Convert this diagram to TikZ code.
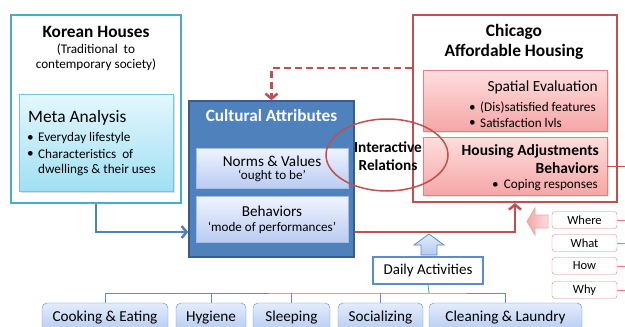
\documentclass[tikz,border=0pt]{standalone}
\usepackage{fontspec}
\setmainfont{Carlito}
\usetikzlibrary{positioning, calc, shapes.geometric, arrows.meta, shadows}
\definecolor{korcyan}{RGB}{75,172,198}
\definecolor{metatop}{RGB}{228,247,253}
\definecolor{metabot}{RGB}{160,224,243}
\definecolor{metaedge}{RGB}{120,195,220}
\definecolor{cultfill}{RGB}{79,129,189}
\definecolor{cultdark}{RGB}{56,93,138}
\definecolor{normtop}{RGB}{240,244,255}
\definecolor{normbot}{RGB}{185,204,242}
\definecolor{chired}{RGB}{192,80,77}
\definecolor{pinktop}{RGB}{254,222,222}
\definecolor{pinkbot}{RGB}{246,166,166}
\definecolor{pinkedge}{RGB}{222,130,128}
\definecolor{actblue}{RGB}{92,140,205}
\definecolor{acttop}{RGB}{228,236,252}
\definecolor{actbot}{RGB}{178,202,240}
\newcommand{\fsz}[2]{\fontsize{#1}{#2}\selectfont}
\tikzset{
    plain text/.style={inner sep=0pt, text=black},
    frame box/.style={draw, line width=2pt, fill=white, inner sep=0pt},
    meta box/.style={draw=metaedge, top color=metatop, bottom color=metabot, inner sep=0pt,
        drop shadow={opacity=0.25, shadow xshift=1.5pt, shadow yshift=-1.5pt}},
    cult box/.style={draw=cultdark, line width=1.5pt, fill=cultfill, inner sep=0pt},
    inner blue/.style={draw=normbot!80!cultfill, top color=normtop, bottom color=normbot, inner sep=0pt},
    inner pink/.style={draw=pinkedge, top color=pinktop, bottom color=pinkbot, inner sep=0pt,
        drop shadow={opacity=0.2, shadow xshift=1.5pt, shadow yshift=-1.5pt}},
    why box/.style={draw=pinkedge, rounded corners=3pt, fill=white, minimum width=65, minimum height=17,
        inner sep=0pt, font=\fsz{12.5}{14}},
    daily box/.style={draw=actblue, line width=1.5pt, fill=white, minimum width=110, minimum height=27,
        inner sep=0pt, font=\fsz{15}{17}},
    activity box/.style={draw=actblue, rounded corners=5pt, top color=acttop, bottom color=actbot,
        minimum height=30, inner sep=0pt, font=\fsz{15.2}{17}},
    blue link/.style={draw=cultfill, line width=2.5pt, -{Straight Barb[length=5pt, width=12pt]}},
    red link/.style={draw=chired, line width=2.5pt, -{Straight Barb[length=5pt, width=12pt]}},
    tree line/.style={draw=actblue, line width=0.8pt},
    big arrow/.style={line width=0.8pt, line join=miter},
}

\begin{document}
\begin{tikzpicture}[x=1pt, y=-1pt]
    \useasboundingbox (0,0) rectangle (625,327);

    \node[frame box, draw=korcyan, minimum width=170, minimum height=188] (korea) at (96,109) {};
    \node[plain text, font=\fsz{17.3}{20}\bfseries] (koreatitle) at (96,32) {Korean Houses};
    \node[plain text, font=\fsz{13.2}{15}] (koreasub1) at (96,50) {(Traditional\ \ to};
    \node[plain text, font=\fsz{13.2}{15}] (koreasub2) at (96,65) {contemporary society)};
    \node[meta box, minimum width=154, minimum height=97] (meta) at (96,142.5) {};
    \node[plain text, anchor=west, font=\fsz{17.4}{20}] (metatitle) at (28,118) {Meta Analysis};
    \node[plain text, anchor=west, font=\fsz{13.2}{15}] (metab1) at (27,138) {\textbullet};
    \node[plain text, anchor=west, font=\fsz{13.2}{15}] (metab2) at (27,154) {\textbullet};
    \node[plain text, anchor=west, font=\fsz{13.2}{15}] (metal1) at (38,138) {Everyday lifestyle};
    \node[plain text, anchor=west, font=\fsz{13.2}{15}] (metal2) at (38,154) {Characteristics\ \ of};
    \node[plain text, anchor=west, font=\fsz{13.2}{15}] (metal3) at (38,170) {dwellings \& their uses};

    \node[frame box, draw=chired, minimum width=204, minimum height=187] (chicago) at (515,108.5) {};
    \node[plain text, font=\fsz{17.4}{20}\bfseries] (chititle1) at (514,32) {Chicago};
    \node[plain text, font=\fsz{17.4}{20}\bfseries] (chititle2) at (514,52) {Affordable Housing};
    \node[inner pink, minimum width=184, minimum height=61] (spatial) at (515,100.5) {};
    \node[plain text, anchor=east, font=\fsz{15.4}{18}] (spatialtitle) at (598,87) {Spatial Evaluation};
    \node[plain text, anchor=west, font=\fsz{13.2}{15}] (spb1) at (469,108) {\textbullet};
    \node[plain text, anchor=west, font=\fsz{13.2}{15}] (spb2) at (469,123) {\textbullet};
    \node[plain text, anchor=west, font=\fsz{13.2}{15}] (spl1) at (480,108) {(Dis)satisfied features};
    \node[plain text, anchor=west, font=\fsz{13.2}{15}] (spl2) at (480,123) {Satisfaction lvls};
    \node[inner pink, minimum width=184, minimum height=58] (housing) at (515,166) {};
    \node[plain text, anchor=east, font=\fsz{15.5}{18}\bfseries] (houtitle1) at (599,151) {Housing Adjustments};
    \node[plain text, anchor=east, font=\fsz{15.5}{18}\bfseries] (houtitle2) at (599,168) {Behaviors};
    \node[plain text, anchor=west, font=\fsz{13.2}{15}] (houb1) at (492,185) {\textbullet};
    \node[plain text, anchor=east, font=\fsz{13.2}{15}] (houl1) at (598,185) {Coping responses};

    \node[cult box, minimum width=165, minimum height=156] (cult) at (271.5,179) {};
    \node[plain text, text=white, font=\fsz{17.2}{20}\bfseries] (culttitle) at (271.5,116) {Cultural Attributes};
    \node[inner blue, minimum width=152, minimum height=40] (norms) at (272,168) {};
    \node[plain text, font=\fsz{15.2}{17}] (normsl1) at (272,161) {Norms \& Values};
    \node[plain text, font=\fsz{13.1}{15}] (normsl2) at (272,176) {‘ought to be’};
    \node[inner blue, minimum width=152, minimum height=46] (behav) at (272,219) {};
    \node[plain text, font=\fsz{15.2}{17}] (behavl1) at (272,211) {Behaviors};
    \node[plain text, font=\fsz{13.1}{15}] (behavl2) at (272,228) {‘mode of performances’};

    \node[ellipse, draw=chired, line width=1.5pt, minimum width=122, minimum height=72] (inter) at (387,155) {};
    \node[plain text, font=\fsz{15.3}{18}\bfseries] (interl1) at (388,147) {Interactive};
    \node[plain text, font=\fsz{15.3}{18}\bfseries] (interl2) at (388,165) {Relations};

    \draw[blue link] (korea.south) |- ([yshift=-53pt]cult.west);
    \draw[red link] ([yshift=-53pt]cult.east) -| (chicago.south);
    \draw[red link, dash pattern=on 7pt off 4pt] ([yshift=40.5pt]chicago.west) -| (cult.north);
    \draw[chired, line width=0.8pt] (housing.east) -- ++(18,0);

    % block arrows
    \draw[big arrow, draw=pinkedge!70, left color=pinkbot, right color=pinktop]
        (527,221.5) -- (535,208) -- (535,215) -- (548,215) -- (548,228) -- (535,228) -- (535,235) -- cycle;
    \foreach \q/\y in {Where/220, What/243, How/266, Why/290}{
        \node[why box] (\q) at (584.5,\y) {\q};
        \draw[pinkedge, line width=0.8pt] (\q.east) -- ++(8,0);
    }

    \node[daily box] (daily) at (428,270.5) {Daily Activities};
    \draw[big arrow, draw=actblue, top color=acttop, bottom color=actbot]
        (429,234) -- (444,245) -- (437,245) -- (437,255) -- (421,255) -- (421,245) -- (414,245) -- cycle;

    \node[activity box, minimum width=126] (cook) at (105,318) {Cooking \& Eating};
    \node[activity box, minimum width=70] (hyg) at (211,318) {Hygiene};
    \node[activity box, minimum width=77] (sleep) at (291.5,318) {Sleeping};
    \node[activity box, minimum width=85] (social) at (380.5,318) {Socializing};
    \node[activity box, minimum width=153] (clean) at (505.5,318) {Cleaning \& Laundry};
    \coordinate (bus) at (429,293);
    \draw[tree line] (daily.south) -- (bus);
    \draw[tree line] (cook.north) |- (bus) -| (clean.north);
    \foreach \a in {hyg, sleep, social}
        \draw[tree line] (\a.north) -- (\a.north |- bus);
\end{tikzpicture}
\end{document}
